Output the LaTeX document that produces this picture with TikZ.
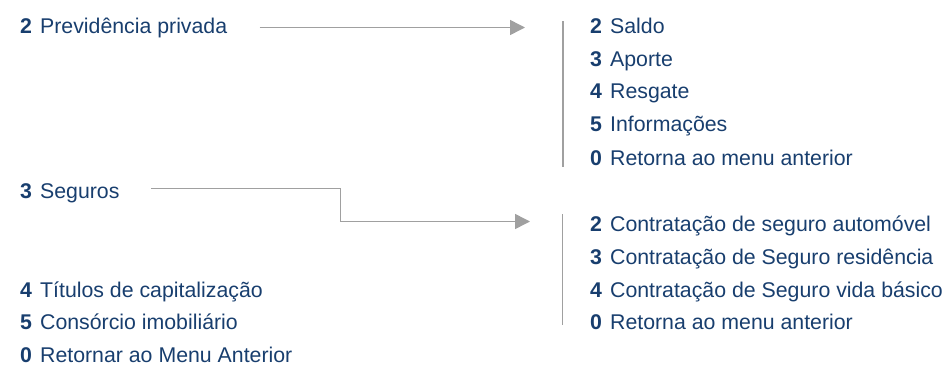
\documentclass[tikz,border=0pt]{standalone}
\usepackage{fontspec}
\setmainfont{Liberation Sans}
\usetikzlibrary{arrows.meta}
\definecolor{navy}{RGB}{24,62,110}
\definecolor{lgray}{RGB}{160,160,160}
\newcommand{\itm}[2]{\textbf{#1}\hspace{8.3pt}#2}
\begin{document}
\begin{tikzpicture}[x=1pt,y=-1pt,
  item/.style={anchor=base west,inner sep=0pt,outer sep=0pt,text=navy,
    font=\fontsize{21.3}{25}\selectfont},
  conn/.style={draw=lgray,line width=1.5pt,-{Triangle[length=15pt,width=15pt]}},
  bar/.style={draw=lgray,line width=1.5pt}]
\useasboundingbox (0,0) rectangle (950,367);
% left menu
\node[item] (prev) at (20,33.3) {\itm{2}{Previdência privada}};
\node[item] (seg) at (20,198.3) {\itm{3}{Seguros}};
\node[item] (tit) at (20,297) {\itm{4}{Títulos de capitalização}};
\node[item] (cons) at (20,329.5) {\itm{5}{Consórcio imobiliário}};
\node[item] (ret) at (20,362) {\itm{0}{Retornar ao Menu Anterior}};
% right menu 1
\node[item] (saldo) at (590,33.3) {\itm{2}{Saldo}};
\node[item] (aporte) at (590,66) {\itm{3}{Aporte}};
\node[item] (resg) at (590,98.8) {\itm{4}{Resgate}};
\node[item] (info) at (590,131.8) {\itm{5}{Informações}};
\node[item] (ret1) at (590,165) {\itm{0}{Retorna ao menu anterior}};
% right menu 2
\node[item] (auto) at (590,231.7) {\itm{2}{Contratação de seguro automóvel}};
\node[item] (resid) at (590,264.3) {\itm{3}{Contratação de Seguro residência}};
\node[item] (vida) at (590,297) {\itm{4}{Contratação de Seguro vida básico}};
\node[item] (ret2) at (590,329.5) {\itm{0}{Retorna ao menu anterior}};
% connector coordinates
\coordinate (p1) at (259.5,27.5);
\coordinate (p2) at (525,27.5);
\coordinate (s1) at (151,188.5);
\coordinate (s2) at (340.5,188.5);
\coordinate (s3) at (340.5,221.5);
\coordinate (s4) at (530,221.5);
\coordinate (b1t) at (563,21);
\coordinate (b1b) at (563,167);
\coordinate (b2t) at (562.5,214);
\coordinate (b2b) at (562.5,325);
% connectors
\draw[conn] (p1) -- (p2);
\draw[conn] (s1) -- (s2) -- (s3) -- (s4);
\draw[bar] (b1t) -- (b1b);
\draw[bar] (b2t) -- (b2b);
\end{tikzpicture}
\end{document}
